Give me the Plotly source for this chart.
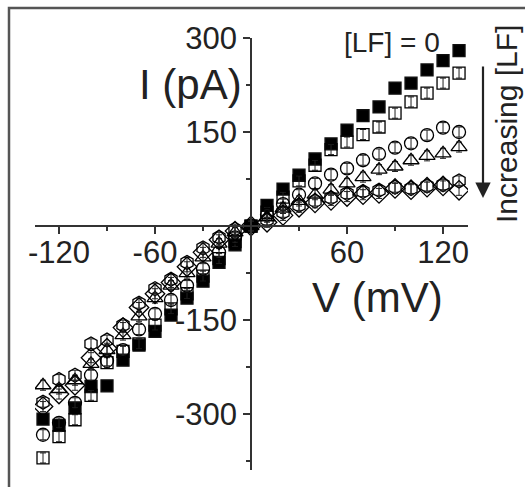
import plotly.graph_objects as go

# Voltage steps (mV)
voltage = [-130, -120, -110, -100, -90, -80, -70, -60, -50, -40, -30, -20, -10,
           0, 10, 20, 30, 40, 50, 60, 70, 80, 90, 100, 110, 120, 130]

# Currents (pA) for increasing [LF]
lf0_filled_square = [-308, -318, -290, -256, -255, -214, -190, -168, -142, -115, -88, -58, -30,
                     0, 33, 59, 81, 107, 131, 153, 176, 190, 220, 228, 249, 264, 280]
open_square = [-370, -336, -309, -270, -218, -200, -188, -158, -132, -108, -80, -52, -25,
               0, 22, 46, 72, 97, 122, 134, 146, 158, 180, 198, 212, 228, 244]
open_circle = [-333, -314, -282, -238, -215, -198, -165, -140, -118, -95, -68, -42, -18,
               0, 18, 35, 50, 68, 82, 92, 105, 115, 125, 132, 145, 157, 150]
open_triangle = [-254, -260, -246, -220, -198, -174, -144, -115, -95, -75, -50, -28, -10,
                 0, 14, 28, 40, 50, 58, 68, 78, 90, 95, 105, 112, 116, 126]
open_hexagon = [-281, -245, -238, -188, -182, -158, -123, -100, -85, -58, -35, -18, -5,
                0, 10, 22, 33, 40, 45, 52, 55, 57, 62, 60, 64, 66, 72]
open_diamond = [-288, -268, -254, -210, -195, -162, -130, -108, -90, -65, -42, -22, -8,
                0, 6, 17, 30, 37, 41, 47, 50, 52, 60, 58, 62, 64, 57]
error_pA = [8, 8, 8, 8, 8, 8]

x_tick_vals = [-120, -60, 60, 120]
x_tick_text = ["-120", "-60", "60", "120"]
x_minor_vals = [-90, -30, 30, 90]
y_tick_vals = [-300, -150, 150, 300]
y_tick_text = ["-300", "-150", "150", "300"]
y_minor_vals = [-375, -225, -75, 75, 225]

W, H = 525, 487
series = [
    (lf0_filled_square, "square", 12, "black"),
    (open_square, "square-open", 12, "black"),
    (open_circle, "circle-open", 13, "black"),
    (open_triangle, "triangle-up-open", 14, "black"),
    (open_hexagon, "hexagon-open", 14, "black"),
    (open_diamond, "diamond-open", 15, "black"),
]

fig = go.Figure()
for (vals, sym, sz, col), err in zip(series, error_pA):
    fig.add_trace(go.Scatter(
        x=voltage, y=vals, mode="markers",
        marker=dict(symbol=sym, size=sz, color=col,
                    line=dict(color="#111", width=1.3)),
        error_y=dict(type="constant", value=err, thickness=1, width=3, color="#222"),
        showlegend=False,
    ))

font = "Liberation Sans, Arial, sans-serif"
tick_font = dict(size=31, family=font, color="#222")
fig.update_layout(
    width=W, height=H,
    margin=dict(l=0, r=0, t=0, b=0, pad=0, autoexpand=False),
    paper_bgcolor="white", plot_bgcolor="white",
    font=dict(family=font, color="#222"),
    xaxis=dict(
        domain=[35 / W, 468 / W], range=[-135, 135.6],
        anchor="free", position=1 - 226 / H,
        showgrid=False, zeroline=False, automargin=False,
        showline=True, linecolor="#333", linewidth=1.5,
        tickmode="array", tickvals=x_tick_vals, ticktext=x_tick_text,
        ticks="outside", ticklen=7, tickwidth=1.5, tickcolor="#333",
        ticklabelstandoff=-8,
        tickfont=tick_font,
        minor=dict(tickmode="array", tickvals=x_minor_vals, ticks="outside",
                   ticklen=4, tickwidth=1.5, tickcolor="#333"),
    ),
    yaxis=dict(
        domain=[1 - 470 / H, 1 - 38 / H], range=[-389.2, 300],
        anchor="free", position=251 / W,
        showgrid=False, zeroline=False, automargin=False,
        showline=True, linecolor="#333", linewidth=1.5,
        tickmode="array", tickvals=y_tick_vals, ticktext=y_tick_text,
        ticks="outside", ticklen=7, tickwidth=1.5, tickcolor="#333",
        tickfont=tick_font,
        minor=dict(tickmode="array", tickvals=y_minor_vals, ticks="outside",
                   ticklen=4, tickwidth=1.5, tickcolor="#333"),
    ),
    shapes=[dict(type="rect", xref="paper", yref="paper",
                 x0=9 / W, x1=1.05, y0=-0.05, y1=1 - 8 / H,
                 line=dict(color="#555", width=2.5), fillcolor="rgba(0,0,0,0)")],
    annotations=[
        dict(text="I (pA)", xref="paper", yref="paper", x=190 / W, y=1 - 84 / H,
             xanchor="center", yanchor="middle",
             showarrow=False, font=dict(size=42, family=font, color="#222")),
        dict(text="V (mV)", xref="paper", yref="paper", x=377 / W, y=1 - 297 / H,
             xanchor="center", yanchor="middle",
             showarrow=False, font=dict(size=42, family=font, color="#222")),
        dict(text="[LF] = 0", xref="paper", yref="paper", x=392 / W, y=1 - 42 / H,
             xanchor="center", yanchor="middle",
             showarrow=False, font=dict(size=28, family=font, color="#222")),
        dict(text="Increasing [LF]", xref="paper", yref="paper", x=506 / W, y=1 - 124 / H,
             xanchor="center", yanchor="middle",
             showarrow=False, textangle=-90, font=dict(size=30, family=font, color="#222")),
        dict(text="", xref="paper", yref="paper", x=483 / W, y=1 - 198 / H,
             axref="pixel", ayref="pixel", ax=0, ay=-133,
             showarrow=True, arrowhead=2, arrowsize=1.4, arrowwidth=2.2, arrowcolor="#222"),
    ],
)

fig.write_html("out.html")
